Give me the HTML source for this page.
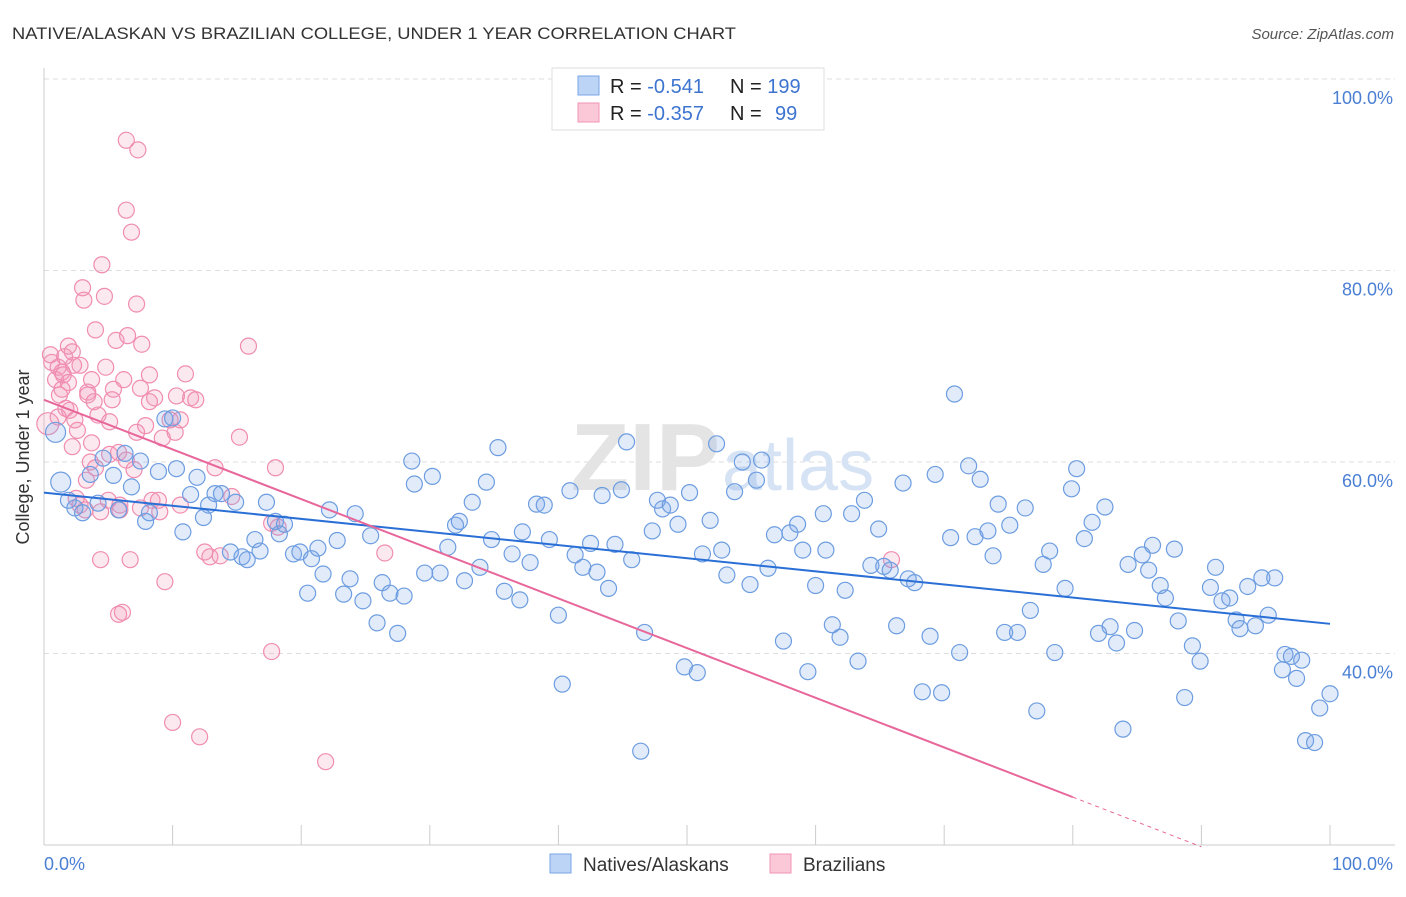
<!DOCTYPE html>
<html><head><meta charset="utf-8">
<style>
body{margin:0;background:#fff;font-family:"Liberation Sans",sans-serif;}
svg text{font-family:"Liberation Sans",sans-serif;}
</style></head>
<body>
<svg id="chart" width="1406" height="892" xmlns="http://www.w3.org/2000/svg">
<text x="12" y="39" font-size="17" fill="#333" textLength="724" lengthAdjust="spacingAndGlyphs">NATIVE/ALASKAN VS BRAZILIAN COLLEGE, UNDER 1 YEAR CORRELATION CHART</text>
<text x="1394" y="39" font-size="15" fill="#555" font-style="italic" text-anchor="end">Source: ZipAtlas.com</text>
<g id="grid"></g>
<text x="720" y="490" font-size="96" fill="#e4e4e4" text-anchor="end" font-family="Liberation Serif" font-weight="bold">ZIP</text>
<text x="722" y="490" font-size="72" fill="#d6e3f4">atlas</text>
<g id="axes"></g>
<g id="pts"></g>
<g id="trends"></g>
<text x="29" y="457" font-size="18" fill="#333" text-anchor="middle" transform="rotate(-90 29 457)">College, Under 1 year</text>
<text x="44" y="870" font-size="18" fill="#4a7fd4">0.0%</text>
<text x="1393" y="870" font-size="18" fill="#4a7fd4" text-anchor="end">100.0%</text>
<g>
<rect x="552" y="68" width="272" height="62" fill="#fff" stroke="#ddd"/>
<rect x="578" y="76" width="21" height="19" fill="#bcd4f5" stroke="#7aa6e6"/>
<rect x="578" y="103" width="21" height="19" fill="#fbc8d8" stroke="#f095b5"/>
<text x="610" y="93" font-size="20" fill="#222">R = <tspan fill="#3d74d0">-0.541</tspan></text>
<text x="730" y="93" font-size="20" fill="#222">N = <tspan fill="#3d74d0">199</tspan></text>
<text x="610" y="120" font-size="20" fill="#222">R = <tspan fill="#3d74d0">-0.357</tspan></text>
<text x="730" y="120" font-size="20" fill="#222">N = <tspan fill="#3d74d0" x="775">99</tspan></text>
</g>
<g>
<rect x="550" y="854" width="21" height="19" fill="#bcd4f5" stroke="#7aa6e6"/>
<text x="583" y="871" font-size="19" fill="#333">Natives/Alaskans</text>
<rect x="770" y="854" width="21" height="19" fill="#fbc8d8" stroke="#f095b5"/>
<text x="803" y="871" font-size="19" fill="#333">Brazilians</text>
</g>
</svg>
<script>
const yTicks=[40,60,80,100];
const yTickLabels=["40.0%","60.0%","80.0%","100.0%"];
const xTicks=[0,10,20,30,40,50,60,70,80,90,100];
const blueX=[1.3,0.9,1.9,2.4,3.0,3.6,4.2,4.6,5.4,5.8,6.3,6.8,7.5,7.9,8.2,8.9,9.4,10.0,10.3,10.8,11.4,11.9,12.4,12.8,13.3,13.8,14.5,14.9,15.4,15.8,16.4,16.8,17.3,18.0,18.3,18.7,19.4,19.9,20.5,20.8,21.3,21.7,22.2,22.8,23.3,23.8,24.2,24.8,25.4,25.9,26.3,26.9,27.5,28.0,28.6,28.8,29.6,30.2,30.8,31.4,32.0,32.3,32.7,33.3,33.9,34.4,34.8,35.3,35.8,36.4,37.0,37.2,37.8,38.3,38.9,39.3,40.0,40.3,40.9,41.3,41.9,42.5,43.0,43.4,43.9,44.4,44.9,45.3,45.7,46.4,46.7,47.3,47.7,48.1,48.7,49.3,49.8,50.2,50.8,51.2,51.8,52.3,52.7,53.1,53.7,54.3,54.9,55.4,55.8,56.3,56.8,57.5,58.0,58.6,59.0,59.4,60.0,60.6,60.8,61.3,61.9,62.3,62.8,63.3,63.8,64.3,64.9,65.3,65.8,66.3,66.8,67.2,67.7,68.3,68.9,69.3,69.8,70.5,70.8,71.2,71.9,72.4,72.8,73.4,73.8,74.2,74.7,75.1,75.7,76.3,76.7,77.2,77.7,78.2,78.6,79.4,79.9,80.3,80.9,81.5,82.0,82.5,82.9,83.4,83.9,84.3,84.8,85.4,85.9,86.2,86.8,87.2,87.9,88.2,88.7,89.3,89.9,90.7,91.1,91.6,92.2,92.7,93.0,93.6,94.2,94.7,95.2,95.7,96.5,96.3,97.0,97.4,97.8,98.1,98.8,99.2,100.0];
const blueY=[57.9,63.1,56.0,55.2,54.7,58.7,55.7,60.4,58.6,55.0,60.9,57.4,60.1,53.8,54.7,59.0,64.5,64.6,59.3,52.7,56.6,58.4,54.2,55.5,56.7,56.7,50.6,55.8,50.1,49.8,51.9,50.7,55.8,53.8,52.5,53.5,50.4,50.6,46.3,49.9,51.0,48.3,55.0,51.8,46.2,47.8,54.6,45.5,52.3,43.2,47.4,46.3,42.1,46.0,60.1,57.7,48.4,58.5,48.4,51.1,53.4,53.8,47.6,55.8,49.0,57.9,51.9,61.5,46.5,50.4,45.6,52.7,49.5,55.6,55.5,51.9,44.0,36.8,57.0,50.3,49.0,51.5,48.5,56.5,46.8,51.4,57.1,62.1,49.8,29.8,42.2,52.8,56.0,55.1,55.5,53.5,38.6,56.8,38.0,50.4,53.9,61.9,50.8,48.2,56.9,60.0,47.2,58.1,60.2,48.9,52.4,41.3,52.6,53.5,50.8,38.1,47.1,54.6,50.8,43.0,41.7,46.6,54.6,39.2,56.0,49.2,53.0,49.1,48.7,42.9,57.8,47.8,47.4,36.0,41.8,58.7,35.9,52.1,67.1,40.1,59.6,52.2,58.2,52.8,50.2,55.6,42.2,53.4,42.2,55.2,44.5,34.0,49.3,50.7,40.1,46.8,57.2,59.3,52.0,53.7,42.1,55.3,42.8,41.1,32.1,49.3,42.4,50.3,48.7,51.3,47.1,45.8,50.9,43.4,35.4,40.8,39.2,46.9,49.0,45.5,45.8,43.5,42.6,47.0,42.9,47.9,44.0,47.9,39.9,38.3,39.7,37.4,39.3,30.9,30.7,34.3,35.8];
const pinkX=[0.5,0.6,0.9,1.1,1.2,1.4,1.6,1.7,1.9,2.0,2.2,2.4,2.6,2.8,3.0,3.1,3.3,3.4,3.6,3.7,4.0,4.0,4.2,4.4,4.5,4.7,4.8,5.0,5.1,5.3,5.4,5.6,5.8,5.9,6.1,6.2,6.4,6.4,6.5,6.7,6.8,7.0,7.2,7.3,7.5,7.6,7.9,8.2,8.4,8.6,8.9,9.2,9.4,9.8,10.0,10.2,10.6,11.0,11.4,12.1,12.5,12.9,13.3,13.7,14.6,15.2,15.9,17.7,18.0,17.7,18.2,26.5,21.9,65.9,1.1,1.4,1.9,2.2,2.5,2.8,3.2,3.4,3.7,3.9,4.4,5.1,5.8,5.9,6.4,7.2,7.5,8.2,9.0,10.3,10.6,11.8,1.5,2.3,0.3];
const pinkY=[71.2,70.4,68.6,69.9,67.0,69.4,71.0,65.6,68.3,65.4,61.6,64.4,63.3,70.1,78.2,76.9,58.1,67.3,60.0,68.6,73.8,59.4,64.9,49.8,80.6,77.3,69.9,56.0,64.2,66.5,67.6,72.7,61.0,55.0,44.3,68.6,86.3,93.6,73.2,49.8,84.0,59.2,76.5,92.6,67.7,72.3,63.8,69.1,56.0,66.7,56.0,62.5,47.5,64.4,32.8,63.1,64.4,69.2,66.7,31.3,50.6,50.1,59.4,50.2,56.4,62.6,72.1,40.2,59.4,53.6,53.2,50.5,28.7,49.8,64.7,67.6,72.1,71.5,56.2,55.5,55.0,67.0,62.0,66.3,54.8,60.8,44.1,55.5,60.2,63.1,55.2,66.3,54.8,66.9,55.5,66.5,69.1,70.1,64.0];
const blueTrend=[56.8,43.1];
const pinkTrend=[66.5,25.0];
const pinkSolidEnd=80, pinkDashEnd=90;
const X0=44,X1=1330,YT=79,YB=845;
const xs=v=>X0+(X1-X0)*v/100;
const ys=v=>YT+(100-v)*(YB-YT)/80;
const NS="http://www.w3.org/2000/svg";
function mk(tag,attrs,parent){const e=document.createElementNS(NS,tag);for(const k in attrs)e.setAttribute(k,attrs[k]);parent.appendChild(e);return e;}
const grid=document.getElementById('grid'),axes=document.getElementById('axes'),pts=document.getElementById('pts'),tr=document.getElementById('trends');
yTicks.forEach((t,i)=>{
  const l=mk('line',{x1:X0,x2:1395,y1:ys(t),y2:ys(t),stroke:'#ddd','stroke-dasharray':'5,4'},grid);
  
  
  const tx=mk('text',{x:1393,y:ys(t)+25,'font-size':18,fill:'#4a7fd4','text-anchor':'end'},grid);
  tx.textContent=yTickLabels[i];
  
  
});
let a=mk('line',{x1:X0,x2:X0,y1:68,y2:YB,stroke:'#ccc'},axes);


a=mk('line',{x1:X0,x2:1395,y1:YB,y2:YB,stroke:'#ccc'},axes);


xTicks.forEach(t=>{
  const l=mk('line',{x1:xs(t),x2:xs(t),y1:825,y2:YB,stroke:'#ccc'},axes);
  
  
});
function dot(x,y,fill,stroke,r,name){
  const c=mk('circle',{cx:xs(x),cy:ys(y),r:r,fill:fill,stroke:stroke,'stroke-width':1.2},pts);
  
  
}
pinkX.forEach((x,i)=>dot(x,pinkY[i],'rgba(243,150,182,0.22)','#f08db0',i==pinkX.length-1?11:8,'brazilian-point'));
blueX.forEach((x,i)=>dot(x,blueY[i],'rgba(120,165,230,0.22)','#6d9de0',i<2?10:8,'native-point'));
let t1=mk('line',{x1:xs(0),y1:ys(blueTrend[0]),x2:xs(100),y2:ys(blueTrend[1]),stroke:'#2a6fd6','stroke-width':2},tr);


const pk=v=>pinkTrend[0]+(pinkTrend[1]-pinkTrend[0])*v/pinkSolidEnd;
let t2=mk('line',{x1:xs(0),y1:ys(pk(0)),x2:xs(pinkSolidEnd),y2:ys(pk(pinkSolidEnd)),stroke:'#e8679a','stroke-width':2},tr);


let t3=mk('line',{x1:xs(pinkSolidEnd),y1:ys(pk(pinkSolidEnd)),x2:xs(pinkDashEnd),y2:ys(pk(pinkDashEnd)),stroke:'#e8679a','stroke-width':1,'stroke-dasharray':'4,4'},tr);


</script>
</body></html>
